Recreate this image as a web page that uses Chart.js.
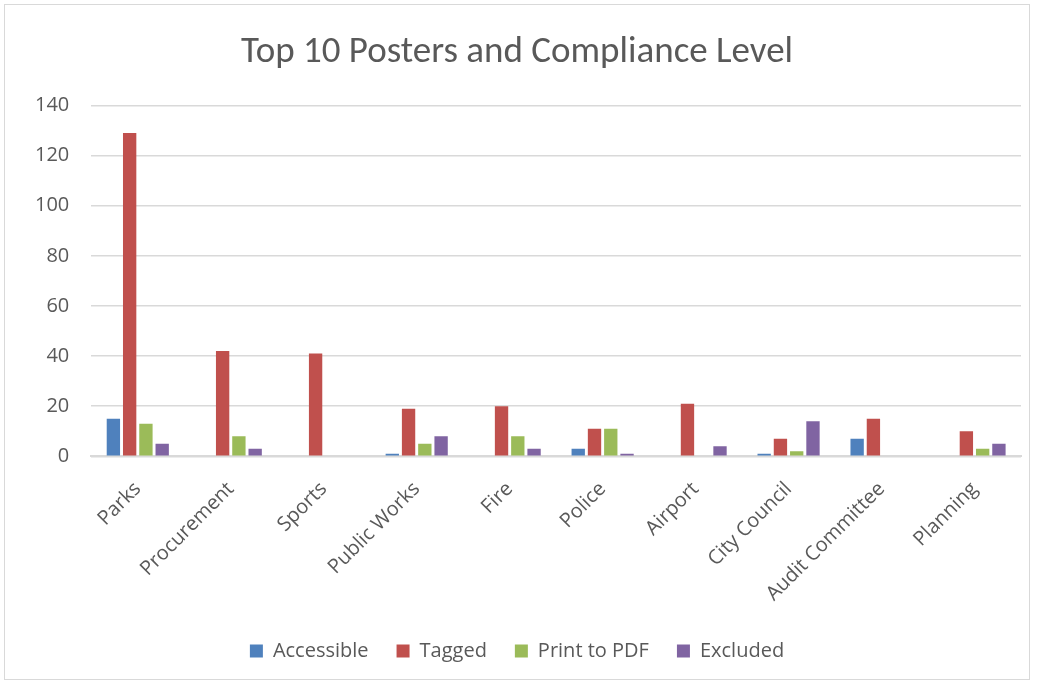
<!DOCTYPE html>
<html>
<head>
<meta charset="utf-8">
<script src="https://cdn.jsdelivr.net/npm/chart.js@4"></script>
<style>
  html, body { margin: 0; padding: 0; background: #fff; }
  .wrap {
    position: absolute; left: 4px; top: 4px;
    width: 1026px; height: 676px;
    border: 1px solid #d9d9d9;
    box-sizing: border-box;
  }
</style>
</head>
<body>
<div class="wrap"><canvas id="chart"></canvas></div>
<script>
const categories = ["Parks", "Procurement", "Sports", "Public Works", "Fire", "Police", "Airport", "City Council", "Audit Committee", "Planning"];
const accessible = [15, 0, 0, 1, 0, 3, 0, 1, 7, 0];
const tagged = [129, 42, 41, 19, 20, 11, 21, 7, 15, 10];
const printToPdf = [13, 8, 0, 5, 8, 11, 0, 2, 0, 3];
const excluded = [5, 3, 0, 8, 3, 1, 4, 14, 0, 5];
const yTicks = [0, 20, 40, 60, 80, 100, 120, 140];

const titleFont = "Calibri, Carlito, 'Noto Sans', sans-serif";
const font = "'Open Sans', 'Segoe UI', sans-serif";
const grey = "#595959";

const mk = (label, data, color) => ({
  label: label,
  data: data,
  backgroundColor: color,
  borderWidth: 0,
  categoryPercentage: 0.7,
  barPercentage: 0.82,
});

new Chart(document.getElementById("chart"), {
  type: "bar",
  data: {
    labels: categories,
    datasets: [
      mk("Accessible", accessible, "#4f81bd"),
      mk("Tagged", tagged, "#c0504d"),
      mk("Print to PDF", printToPdf, "#9bbb59"),
      mk("Excluded", excluded, "#8064a2"),
    ],
  },
  options: {
    responsive: true,
    maintainAspectRatio: false,
    animation: false,
    layout: { padding: { left: 8, right: 8, top: 26, bottom: 8 } },
    plugins: {
      title: {
        display: true,
        text: "Top 10 Posters and Compliance Level",
        color: grey,
        font: { family: titleFont, size: 37, weight: "normal" },
        padding: { top: 0, bottom: 30 },
      },
      legend: {
        position: "bottom",
        labels: {
          color: grey,
          font: { family: font, size: 20 },
          boxWidth: 13,
          boxHeight: 13,
          padding: 28,
        },
      },
      tooltip: { enabled: false },
    },
    scales: {
      x: {
        grid: { display: false },
        border: { color: "#d9d9d9", width: 2 },
        afterFit: (scale) => {
          scale.height -= 6;
        },
        ticks: {
          color: grey,
          font: { family: font, size: 20 },
          minRotation: 45,
          maxRotation: 45,
          padding: 13,
        },
      },
      y: {
        min: 0,
        max: 140,
        afterBuildTicks: (axis) => {
          axis.ticks = yTicks.map((v) => ({ value: v }));
        },
        grid: { color: "#d9d9d9", lineWidth: 1.5, drawTicks: false },
        border: { display: false },
        ticks: {
          color: grey,
          font: { family: font, size: 20 },
          padding: 22,
        },
      },
    },
  },
});
</script>
</body>
</html>
